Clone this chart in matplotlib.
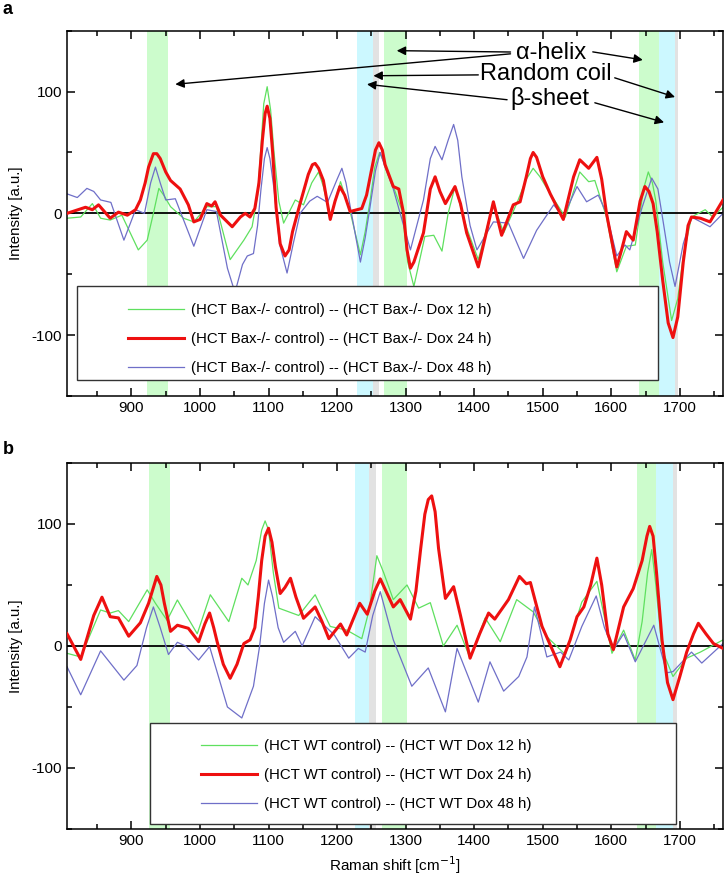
import matplotlib
matplotlib.use('Agg')
import matplotlib.pyplot as plt
from matplotlib.patches import Rectangle
from matplotlib.ticker import MultipleLocator

plt.rcParams['font.family'] = ['Liberation Sans', 'DejaVu Sans']
plt.rcParams['axes.unicode_minus'] = False

# ---- panel a data (HCT Bax-/-) ----
a_red_x = [806, 833, 843, 852, 869, 881, 894, 906, 913, 920, 925, 932, 937, 942, 950, 957, 971, 983, 991, 1000,
           1010, 1017, 1022, 1030, 1047, 1059, 1066, 1073, 1080, 1086, 1091, 1095, 1098, 1102, 1106, 1111, 1117,
           1124, 1130, 1135, 1146, 1158, 1164, 1168, 1173, 1180, 1190, 1197, 1204, 1211, 1219, 1236, 1243, 1250,
           1256, 1261, 1266, 1270, 1282, 1290, 1297, 1302, 1307, 1312, 1326, 1336, 1343, 1350, 1358, 1365, 1372,
           1380, 1389, 1406, 1418, 1428, 1440, 1457, 1467, 1476, 1482, 1486, 1491, 1500, 1511, 1530, 1545, 1554,
           1567, 1579, 1586, 1593, 1608, 1615, 1622, 1632, 1642, 1649, 1655, 1661, 1667, 1675, 1683, 1690, 1697,
           1705, 1712, 1717, 1730, 1744, 1763]
a_red_y = [0, 5, 3, 7, -4, 1, -1.5, 3, 11, 25, 38, 49, 49, 45, 34, 27, 20, 7, -7, -5,
           8, 6, 9.5, -1.5, -11, -3, 0, -3, 4, 25, 60, 82, 88, 78, 50, 5, -25,
           -35, -30, -15, 8, 32, 40, 41, 37, 27, -5, 10, 22, 15, 1.5, 4, 15, 35,
           52, 58, 52, 40, 22, 20, 0, -30, -45, -40, -16, 20, 30, 18, 8, 15, 22,
           8, -16, -44, -15, 9.5, -18, 7, 9.5, 30, 45, 50, 46, 30, 16, -5, 30, 44,
           37, 46, 28, 0, -44, -30, -15, -22, 10, 22, 18, 8, -15, -55, -90, -102, -85,
           -40, -10, -3, -4, -7, 11]

a_green_x = [806, 826, 843, 855, 869, 886, 910, 923, 932, 940, 947, 957, 976, 991, 1010, 1024, 1044, 1064,
             1076, 1084, 1089, 1093, 1098, 1103, 1108, 1115, 1122, 1139, 1151, 1163, 1173, 1180, 1190, 1205,
             1219, 1234, 1241, 1248, 1255, 1262, 1270, 1282, 1295, 1303, 1312, 1328, 1341, 1353, 1362, 1372,
             1389, 1406, 1428, 1443, 1462, 1476, 1486, 1496, 1511, 1533, 1554, 1567, 1576, 1593, 1608, 1622,
             1635, 1647, 1654, 1660, 1665, 1675, 1688, 1697, 1705, 1717, 1737, 1748, 1763]
a_green_y = [-4, -3, 8, -4, -5.5, -1.5, -30, -22, 0, 20.5, 15, 5.5, -4, -7, 5.5, 5.5, -38, -22,
             -11, 15, 55, 90, 104, 85, 50, 10, -8, 11, 7, 25, 34, 22, -3, 26,
             1.5, -34, -15, 10, 38, 50, 40, 22, 2, -40, -60, -19, -18, -31, 0, 22,
             -12, -38, 8, -16, 8, 28, 37, 30, 16, -3, 34, 26, 27, -3, -48, -27,
             -26, 20, 34, 25, 10, -40, -88, -70, -35, -3, 3, -3, 5]

a_blue_x = [806, 821, 835, 845, 855, 870, 889, 906, 919, 928, 935, 942, 950, 964, 991, 1010, 1024, 1040,
            1051, 1062, 1069, 1078, 1084, 1089, 1094, 1098, 1102, 1108, 1116, 1127, 1136, 1146, 1160, 1171,
            1186, 1200, 1207, 1213, 1219, 1234, 1241, 1248, 1256, 1263, 1270, 1282, 1307, 1326, 1336, 1343,
            1353, 1362, 1370, 1376, 1382, 1394, 1404, 1428, 1450, 1472, 1491, 1516, 1530, 1550, 1564, 1581,
            1593, 1608, 1620, 1627, 1645, 1659, 1668, 1676, 1685, 1693, 1705, 1717, 1744, 1763]
a_blue_y = [16, 13, 20.5, 18, 11, 9, -22, 3, 0, 25, 38, 25, 11, 12, -27, 3, 1.5, -45,
            -65, -42, -35, -33, -10, 20, 45, 54, 45, 20, -25, -49, -25, 0, 10, 14,
            9, 28, 37, 25, 6, -40, -20, 5, 35, 50, 38, 20, -30, 11, 45, 55,
            44, 60, 73, 60, 30, -10, -30, -7, -8, -37, -14, 7, -3, 22, 9.5, 15,
            0, -35, -26, -30, 5, 29, 20, -8, -40, -60, -25, -3, -11, 0]

# ---- panel b data (HCT WT) ----
b_red_x = [806, 826, 845, 857, 869, 881, 896, 913, 925, 937, 943, 948, 957, 967, 983, 998, 1007, 1014, 1020,
           1025, 1034, 1044, 1054, 1064, 1073, 1080, 1085, 1090, 1095, 1100, 1105, 1110, 1117, 1124, 1132,
           1140, 1151, 1168, 1178, 1188, 1205, 1214, 1233, 1244, 1255, 1263, 1282, 1292, 1307, 1315, 1322,
           1328, 1333, 1338, 1343, 1348, 1358, 1370, 1380, 1394, 1408, 1421, 1430, 1450, 1466, 1476, 1482,
           1490, 1499, 1525, 1540, 1550, 1560, 1570, 1579, 1586, 1595, 1603, 1618, 1632, 1645, 1652, 1656,
           1661, 1666, 1674, 1682, 1690, 1700, 1710, 1720, 1727, 1738, 1749, 1763]
b_red_y = [10, -11, 25, 40, 24, 23, 8, 19, 35, 57, 50, 35, 12, 17, 14.5, 3.5, 18, 27, 15,
           3.5, -15, -26.5, -15, 2, 5, 15, 40, 70, 90, 96.5, 85, 65, 43, 48, 55.5,
           40, 22.7, 32, 20, 6, 18, 9, 35, 26, 45, 55, 32, 38, 22, 45, 80,
           108, 120, 123, 110, 80, 39, 48.6, 25, -10, 10, 27, 22, 38, 57, 51, 52,
           35, 16, -17, 5, 24, 32, 50, 72, 50, 10, -3, 32, 47, 70, 90, 98,
           90, 60, 5, -30, -44, -25, -5, 10, 18.6, 10, 2, -2]

b_green_x = [806, 826, 855, 869, 881, 896, 923, 935, 952, 967, 996, 1015, 1042, 1061, 1070, 1082, 1090, 1095,
             1100, 1107, 1115, 1144, 1168, 1190, 1214, 1236, 1247, 1258, 1268, 1282, 1302, 1319, 1336, 1355,
             1375, 1394, 1416, 1438, 1462, 1486, 1506, 1533, 1557, 1579, 1601, 1618, 1635, 1645, 1653, 1659,
             1665, 1674, 1690, 1710, 1730, 1763]
b_green_y = [-6, -9, 29.5, 27, 29, 20, 46, 35, 21, 37.7, 10, 42, 20, 55.5, 50, 70, 95, 102.5,
             95, 60, 31, 25, 42, 16, 13, 6, 30, 74, 60, 38, 50, 31, 35.5, 0,
             17, -10, 23, 3.5, 38, 28, 7.6, -7, 36, 53, -6, 13, -11.5, 20, 60, 79,
             50, -3, -25, -10, -5, 5]

b_blue_x = [806, 826, 855, 889, 908, 922, 932, 942, 954, 967, 979, 998, 1014, 1040, 1061, 1078, 1087, 1094,
            1100, 1106, 1114, 1122, 1139, 1149, 1168, 1196, 1217, 1231, 1241, 1252, 1263, 1270, 1282, 1309,
            1333, 1358, 1375, 1406, 1423, 1443, 1465, 1477, 1488, 1506, 1526, 1538, 1557, 1578, 1590, 1603,
            1618, 1635, 1662, 1681, 1690, 1717, 1732, 1763]
b_blue_y = [-17, -40, -4, -28, -16, 15, 32, 15, -7, 3, 0, -11.5, -0.5, -50, -59, -33, 0, 35,
            54, 40, 15, 3, 12, 0, 24, 9, -10, -2, -5, 25, 44.5, 30, 5, -33,
            -18, -54, -2, -46, -13, -37, -25, -9, 32, -9, -5, -11.5, 16, 41, 15, -3,
            10, -13, 17, -22, -21, -5, -14, 2]

a_labels = ['(HCT Bax-/- control) -- (HCT Bax-/- Dox 12 h)',
            '(HCT Bax-/- control) -- (HCT Bax-/- Dox 24 h)',
            '(HCT Bax-/- control) -- (HCT Bax-/- Dox 48 h)']
b_labels = ['(HCT WT control) -- (HCT WT Dox 12 h)',
            '(HCT WT control) -- (HCT WT Dox 24 h)',
            '(HCT WT control) -- (HCT WT Dox 48 h)']

# highlighted bands (start, end, colour)
a_bands = [(923, 954, '#ccfccc'), (1229, 1252, '#ccf8ff'), (1252, 1261, '#e2e2e2'), (1268, 1302, '#ccfccc'),
           (1640, 1670, '#ccfccc'), (1670, 1693, '#ccf8ff'), (1693, 1698, '#e2e2e2')]
b_bands = [(925, 956, '#ccfccc'), (1226, 1246, '#ccf8ff'), (1246, 1257, '#e2e2e2'), (1265, 1302, '#ccfccc'),
           (1638, 1665, '#ccfccc'), (1665, 1690, '#ccf8ff'), (1690, 1696, '#e2e2e2')]

GREEN = '#5fe05f'
RED = '#ee1010'
BLUE = '#6f6fc8'


def draw_panel(ax, bands, series, labels, box, leg_anchor, handle_len):
    for x0, x1, c in bands:
        ax.axvspan(x0, x1, color=c, lw=0, zorder=0)
    ax.axhline(0, color='black', lw=1.3, zorder=1)
    (gx, gy), (rx, ry), (bx, by) = series
    lg, = ax.plot(gx, gy, color=GREEN, lw=0.9, zorder=2, solid_joinstyle='round')
    lb, = ax.plot(bx, by, color=BLUE, lw=0.9, zorder=2, solid_joinstyle='round')
    lr, = ax.plot(rx, ry, color=RED, lw=2.2, zorder=3, solid_joinstyle='round')
    ax.set_xlim(806, 1763)
    ax.set_ylim(-150, 150)
    ax.xaxis.set_major_locator(MultipleLocator(100))
    ax.xaxis.set_minor_locator(MultipleLocator(50))
    ax.yaxis.set_major_locator(MultipleLocator(100))
    ax.yaxis.set_minor_locator(MultipleLocator(50))
    ax.tick_params(which='both', direction='in', top=True, right=True, labelsize=11, width=1.1)
    ax.tick_params(which='major', length=5.5)
    ax.tick_params(which='minor', length=3.5)
    for s in ax.spines.values():
        s.set_linewidth(1.1)
    ax.set_ylabel('Intensity [a.u.]', fontsize=10.8, labelpad=6)
    # legend box
    ax.add_patch(Rectangle(box[:2], box[2], box[3], transform=ax.transAxes, facecolor='white',
                           edgecolor='#333333', lw=1.0, zorder=5))
    leg = ax.legend([lg, lr, lb], labels, loc='upper left', bbox_to_anchor=leg_anchor, frameon=False,
                    fontsize=10.8, handlelength=handle_len, handletextpad=0.45, labelspacing=1.0,
                    borderpad=0, borderaxespad=0)
    leg.set_zorder(6)


fig = plt.figure(figsize=(7.26, 8.82), dpi=100)
ax_a = fig.add_axes([0.0923, 0.551, 0.9036, 0.4142])
ax_b = fig.add_axes([0.0923, 0.0601, 0.9036, 0.415])

draw_panel(ax_a, a_bands, [(a_green_x, a_green_y), (a_red_x, a_red_y), (a_blue_x, a_blue_y)], a_labels,
           (0.0152, 0.0438, 0.886, 0.257), (0.0935, 0.255), 3.7)
draw_panel(ax_b, b_bands, [(b_green_x, b_green_y), (b_red_x, b_red_y), (b_blue_x, b_blue_y)], b_labels,
           (0.127, 0.0137, 0.802, 0.276), (0.205, 0.245), 3.7)
ax_b.set_xlabel('Raman shift [cm$^{-1}$]', fontsize=11, labelpad=5)

# structure annotations on panel a
ax_a.text(1512, 132, '\u03b1-helix', fontsize=17, ha='center', va='center', zorder=7)
ax_a.text(1505, 114.6, 'Random coil', fontsize=17, ha='center', va='center', zorder=7)
ax_a.text(1510, 94, '\u03b2-sheet', fontsize=17, ha='center', va='center', zorder=7)
arrows = [((1453, 131), (964, 106)), ((1453, 132.5), (1287, 133.6)), ((1573, 132.6), (1646, 126)),
          ((1406, 113.7), (1253, 113)), ((1605, 111.3), (1693, 95.5)),
          ((1448, 93.3), (1243.6, 106)), ((1576, 90.8), (1677, 74.7))]
for tail, head in arrows:
    ax_a.annotate('', xy=head, xytext=tail, zorder=7,
                  arrowprops=dict(arrowstyle='-|>', color='black', lw=1.0, mutation_scale=13,
                                  shrinkA=0, shrinkB=0))

fig.text(0.004, 0.999, 'a', fontsize=13, weight='bold', va='top')
fig.text(0.004, 0.5, 'b', fontsize=13, weight='bold', va='top')

fig.savefig('out.png', dpi=100)
